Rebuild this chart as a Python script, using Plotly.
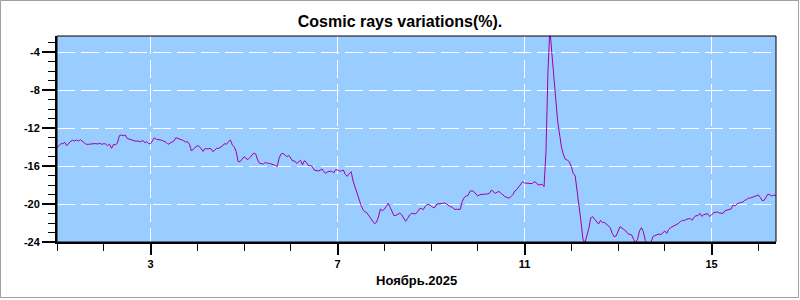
import pandas as pd
import plotly.graph_objects as go

# ---- data (hourly samples starting 2025-11-01 00:00) ----
start_time = "2025-11-01 00:00"
step = "1h"
variation = [
    -14.07, -13.89, -13.65, -13.65, -13.51, -13.86, -13.58, -13.40, -13.30, -13.37,
    -13.26, -13.37, -13.23, -13.40, -13.51, -13.72, -13.72, -13.68, -13.65, -13.65,
    -13.65, -13.68, -13.61, -13.72, -13.65, -13.68, -13.86, -13.72, -14.14, -13.72,
    -13.79, -13.58, -12.81, -12.74, -12.81, -12.74, -13.09, -13.16, -13.30, -13.30,
    -13.37, -13.37, -13.44, -13.44, -13.30, -13.54, -13.44, -13.65, -13.65, -13.26,
    -13.02, -13.19, -13.26, -13.26, -13.30, -13.40, -13.51, -13.72, -13.61, -13.51,
    -13.37, -13.02, -13.09, -13.23, -13.30, -13.33, -13.47, -13.44, -13.72, -14.42,
    -14.21, -14.04, -13.86, -13.93, -14.14, -14.46, -14.14, -14.21, -14.17, -14.17,
    -14.49, -14.35, -14.14, -14.14, -14.00, -13.89, -13.65, -13.72, -13.44, -13.26,
    -13.79, -14.00, -14.49, -15.54, -15.54, -15.26, -15.02, -15.19, -15.33, -15.12,
    -14.88, -14.63, -14.74, -15.37, -15.72, -15.72, -15.79, -15.61, -15.72, -15.72,
    -15.79, -15.82, -15.93, -16.07, -15.19, -14.74, -14.67, -14.84, -15.02, -14.88,
    -15.19, -15.47, -15.47, -15.72, -15.58, -15.40, -15.89, -15.44, -15.61, -15.96,
    -15.96, -16.03, -16.42, -16.49, -16.53, -16.46, -16.31, -16.60, -16.77, -16.60,
    -16.53, -16.53, -16.74, -16.39, -16.42, -16.53, -16.53, -16.42, -16.88, -17.09,
    -16.81, -16.60, -17.58, -18.24, -18.70, -19.58, -20.10, -20.56, -20.81, -20.91,
    -21.23, -21.61, -21.79, -22.07, -21.93, -21.37, -20.53, -20.70, -20.56, -20.25,
    -19.93, -20.35, -20.81, -21.23, -21.19, -21.05, -20.95, -21.16, -21.47, -21.82,
    -21.51, -21.16, -20.98, -21.02, -21.05, -20.84, -20.53, -20.46, -20.60, -20.25,
    -20.05, -20.07, -20.18, -20.39, -20.35, -20.00, -20.00, -20.00, -19.93, -19.89,
    -20.04, -20.18, -20.28, -20.35, -20.56, -20.56, -20.56, -20.56, -19.75, -19.33,
    -19.16, -19.09, -18.67, -18.60, -18.70, -18.95, -19.16, -19.02, -18.98, -18.95,
    -18.95, -18.95, -18.88, -18.53, -18.70, -18.88, -18.74, -18.70, -18.88, -19.09,
    -19.23, -19.30, -19.40, -19.23, -19.02, -18.63, -18.49, -18.21, -17.86, -17.65,
    -17.79, -17.82, -17.82, -17.82, -17.86, -17.65, -17.75, -18.00, -18.00, -17.93,
    -18.18, -14.49, -6.25, -1.50, -4.07, -6.18, -8.88, -11.30, -12.98, -14.07,
    -14.84, -15.30, -15.37, -15.58, -16.07, -16.77, -17.05, -18.46, -20.28, -21.89,
    -23.70, -24.10, -23.45, -22.56, -21.45, -21.33, -21.61, -21.93, -22.11, -21.72,
    -21.96, -21.93, -22.11, -22.21, -22.49, -23.09, -23.44, -23.37, -22.95, -22.39,
    -22.53, -22.67, -22.84, -23.12, -23.19, -23.26, -23.72, -24.10, -23.72, -22.84,
    -22.49, -22.91, -23.86, -24.10, -24.17, -23.96, -23.40, -23.33, -23.30, -23.16,
    -23.23, -22.98, -22.84, -23.09, -22.67, -22.49, -22.39, -22.28, -22.14, -22.04,
    -21.86, -21.72, -21.75, -21.61, -21.58, -21.51, -21.72, -21.40, -21.23, -21.23,
    -20.98, -21.30, -21.12, -21.05, -21.02, -21.30, -21.16, -20.91, -20.88, -20.84,
    -20.95, -20.98, -20.98, -20.70, -20.67, -20.63, -20.53, -20.10, -20.21, -20.00,
    -19.89, -19.82, -19.82, -19.61, -19.54, -19.37, -19.37, -19.30, -19.26, -19.12,
    -19.05, -19.30, -19.65, -19.61, -19.26, -18.95, -19.05, -19.16, -19.05, -19.12,
]
times = pd.date_range(start_time, periods=len(variation), freq=step)

x_tick_days = ["2025-11-03", "2025-11-07", "2025-11-11", "2025-11-15"]
x_tick_text = ["3", "7", "11", "15"]
x_minor_days = [f"2025-11-{d:02d}" for d in range(1, 17)]
y_tick_vals = [-24, -20, -16, -12, -8, -4]
y_tick_text = ["-24", "-20", "-16", "-12", "-8", "-4"]
y_minor_vals = list(range(-23, -2))

title_text = "Cosmic rays variations(%)."
x_title = "Ноябрь.2025"

FONT = "Liberation Sans, Arial, sans-serif"

fig = go.Figure()
fig.add_trace(go.Scatter(
    x=times, y=variation, mode="lines",
    line=dict(color="rgb(160,0,170)", width=1),
    hoverinfo="skip", showlegend=False,
))

fig.update_layout(
    width=800, height=300,
    margin=dict(l=57, r=24, t=36, b=58),
    paper_bgcolor="white",
    plot_bgcolor="#99CCFF",
    title=dict(text=title_text, x=0.5, xref="container", xanchor="center",
               y=1 - 21 / 300, yref="container", yanchor="middle",
               font=dict(family=FONT, size=16, color="black", weight="bold")),
    showlegend=False,
)

fig.update_xaxes(
    type="date",
    range=["2025-11-01 00:00", "2025-11-16 09:05"],
    tickmode="array", tickvals=x_tick_days, ticktext=x_tick_text,
    ticks="outside", ticklen=11, tickwidth=2, tickcolor="black",
    tickfont=dict(family=FONT, size=11, color="black", weight="bold"),
    showline=True, linecolor="black", linewidth=2,
    showgrid=True, gridcolor="white", gridwidth=1, griddash="18px,6px",
    minor=dict(tickmode="array", tickvals=x_minor_days, ticks="outside",
               ticklen=7, tickwidth=1, tickcolor="black", showgrid=False),
    zeroline=False,
)
fig.update_yaxes(
    range=[-24, -2.316],
    tickmode="array", tickvals=y_tick_vals, ticktext=y_tick_text,
    ticks="outside", ticklen=13, tickwidth=2, tickcolor="black",
    tickfont=dict(family=FONT, size=11, color="black", weight="bold"),
    showline=True, linecolor="black", linewidth=2,
    showgrid=True, gridcolor="white", gridwidth=1, griddash="18px,6px",
    minor=dict(tickmode="array", tickvals=y_minor_vals, ticks="outside",
               ticklen=7, tickwidth=1, tickcolor="black", showgrid=False),
    zeroline=False,
)

# plot-area frame (top/right thin border)
fig.add_shape(type="rect", xref="paper", yref="paper", x0=0, x1=1, y0=0, y1=1,
              line=dict(color="black", width=1), layer="above")
# outer grey frame of the image
fig.add_shape(type="rect", xref="paper", yref="paper",
              x0=(0.5 - 57) / 719, x1=(798.5 - 57) / 719,
              y0=(242 - 297.5) / 206, y1=(242 - 0.5) / 206,
              line=dict(color="rgb(160,160,160)", width=1), layer="above")

fig.add_annotation(text=x_title, xref="paper", yref="paper",
                   x=0.5, y=(242 - 280) / 206, xanchor="center", yanchor="middle",
                   showarrow=False,
                   font=dict(family=FONT, size=13, color="black", weight="bold"))

fig.write_html("out.html")
